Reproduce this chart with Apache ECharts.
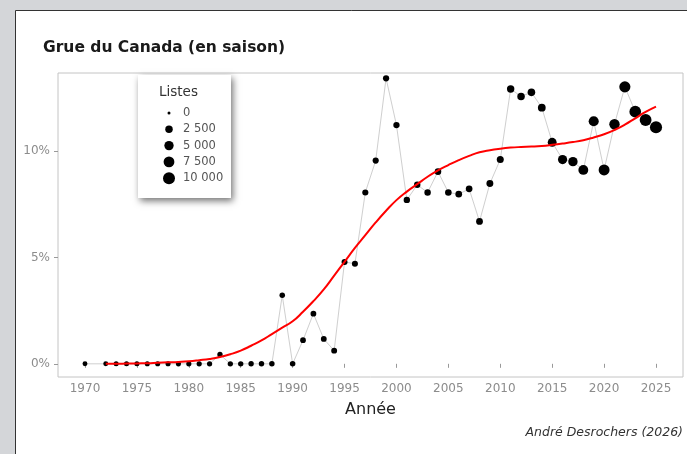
<!DOCTYPE html>
<html><head><meta charset="utf-8">
<script src="https://cdn.jsdelivr.net/npm/echarts@6/dist/echarts.min.js"></script>
<style>html,body{margin:0;padding:0;background:#d4d6d9;}#c{width:687px;height:454px;}</style>
</head><body><div id="c"></div>
<script>
// ---- data ----
const years = [1970,1972,1973,1974,1975,1976,1977,1978,1979,1980,1981,1982,1983,1984,1985,1986,1987,1988,1989,1990,
  1991,1992,1993,1994,1995,1996,1997,1998,1999,2000,2001,2002,2003,2004,2005,2006,2007,2008,2009,2010,
  2011,2012,2013,2014,2015,2016,2017,2018,2019,2020,2021,2022,2023,2024,2025];
const pct = [0,0,0,0,0,0,0,0,0,0,0,0,0.44,0,0,0,0,0,3.22,0,
  1.11,2.36,1.17,0.62,4.79,4.71,8.06,9.56,13.43,11.23,7.71,8.42,8.06,9.04,8.06,7.98,8.23,6.70,8.48,9.61,
  12.93,12.58,12.77,12.05,10.42,9.61,9.51,9.12,11.41,9.12,11.27,13.03,11.86,11.47,11.13];
const lists = [450,480,500,510,520,530,540,550,560,580,600,620,650,670,690,710,730,750,780,800,
  900,950,1000,1050,1100,1150,1200,1250,1300,1350,1400,1450,1500,1550,1600,1650,1700,1800,1900,2000,
  2400,2500,2600,2800,4300,4800,5000,5800,6200,7800,6800,8200,9300,9600,10300];
const smoothYears = [1972,1973,1974,1975,1976,1977,1978,1979,1980,1981,1982,1983,1984,1985,1986,1987,1988,1989,1990,
  1991,1992,1993,1994,1995,1996,1997,1998,1999,2000,2001,2002,2003,2004,2005,2006,2007,2008,2009,2010,
  2011,2012,2013,2014,2015,2016,2017,2018,2019,2020,2021,2022,2023,2024,2025];
const smoothPct = [0,0,0.01,0.02,0.03,0.05,0.07,0.09,0.12,0.17,0.23,0.32,0.45,0.62,0.85,1.1,1.4,1.7,2.0,
  2.45,2.95,3.5,4.15,4.8,5.45,6.05,6.65,7.2,7.7,8.1,8.45,8.8,9.1,9.35,9.58,9.78,9.95,10.05,10.12,
  10.17,10.2,10.22,10.25,10.3,10.36,10.43,10.52,10.65,10.8,11.0,11.25,11.55,11.85,12.1];
const xTicks = [1970,1975,1980,1985,1990,1995,2000,2005,2010,2015,2020,2025];
const yTicks = [0,5,10];
const legendValues = [0,2500,5000,7500,10000];
const legendLabels = ['0','2 500','5 000','7 500','10 000'];

function sizeOf(v){ return 3 + 9*Math.sqrt(Math.max(v,0)/10000); }

const chart = echarts.init(document.getElementById('c'));
const F = 'DejaVu Sans';
const legendChildren = [
  {type:'rect', shape:{x:0,y:0,width:93,height:123},
   style:{fill:'#fff', shadowBlur:7, shadowOffsetX:2, shadowOffsetY:3, shadowColor:'rgba(0,0,0,0.55)'}},
  {type:'text', x:21, y:10, style:{text:'Listes', font:'13.5px "DejaVu Sans"', fill:'#333'}}
];
legendValues.forEach((v,i)=>{
  const cy = 38 + i*16.3;
  legendChildren.push({type:'circle', shape:{cx:31, cy:cy, r:sizeOf(v)/2}, style:{fill:'#000'}});
  legendChildren.push({type:'text', x:45, y:cy, style:{text:legendLabels[i], font:'11.5px "DejaVu Sans"', fill:'#555', verticalAlign:'middle'}});
});

chart.setOption({
  animation:false,
  backgroundColor:'#d4d6d9',
  title:{text:'Grue du Canada (en saison)', left:38, top:35,
    textStyle:{fontFamily:F, fontWeight:'bold', fontSize:15.5, color:'#1a1a1a'}},
  graphic:[
    {type:'rect', z:-10, zlevel:0, shape:{x:15.5,y:10.5,width:700,height:500},
     style:{fill:'#fff', stroke:'#333', lineWidth:1}},
    {type:'text', right:4, top:426, style:{text:'André Desrochers (2026)', font:'italic 12.5px "DejaVu Sans"', fill:'#333'}},
    {type:'group', left:138, top:75, z:100, children:legendChildren}
  ],
  grid:{left:58, right:4, top:73, bottom:77, show:true, borderColor:'#c4c4c4', borderWidth:1, backgroundColor:'#fff'},
  xAxis:{type:'value', min:1967.4, max:2027.6,
    name:'Année', nameLocation:'middle', nameGap:25,
    nameTextStyle:{fontFamily:F, fontSize:16, color:'#222'},
    axisLine:{show:false},
    axisTick:{show:true, length:4, customValues:xTicks, lineStyle:{color:'#999'}},
    axisLabel:{customValues:xTicks, fontFamily:F, fontSize:12, color:'#8c8c8c', margin:6, formatter:v=>String(v)},
    splitLine:{show:false}},
  yAxis:{type:'value', min:-0.62, max:13.68,
    axisLine:{show:false},
    axisTick:{show:true, length:4, customValues:yTicks, lineStyle:{color:'#999'}},
    axisLabel:{customValues:yTicks, fontFamily:F, fontSize:12, color:'#8c8c8c', margin:8, formatter:v=>v+'%'},
    splitLine:{show:false}},
  series:[
    {type:'line', data:years.map((y,i)=>[y,pct[i]]), symbol:'none', z:1,
     lineStyle:{color:'#cfcfcf', width:1}},
    {type:'scatter', data:years.map((y,i)=>[y,pct[i],lists[i]]), z:2,
     symbolSize:d=>sizeOf(d[2]), itemStyle:{color:'#000', opacity:1}},
    {type:'line', data:smoothYears.map((y,i)=>[y,smoothPct[i]]), symbol:'none', smooth:true, z:3,
     lineStyle:{color:'#ff0000', width:2}}
  ]
});
</script></body></html>
